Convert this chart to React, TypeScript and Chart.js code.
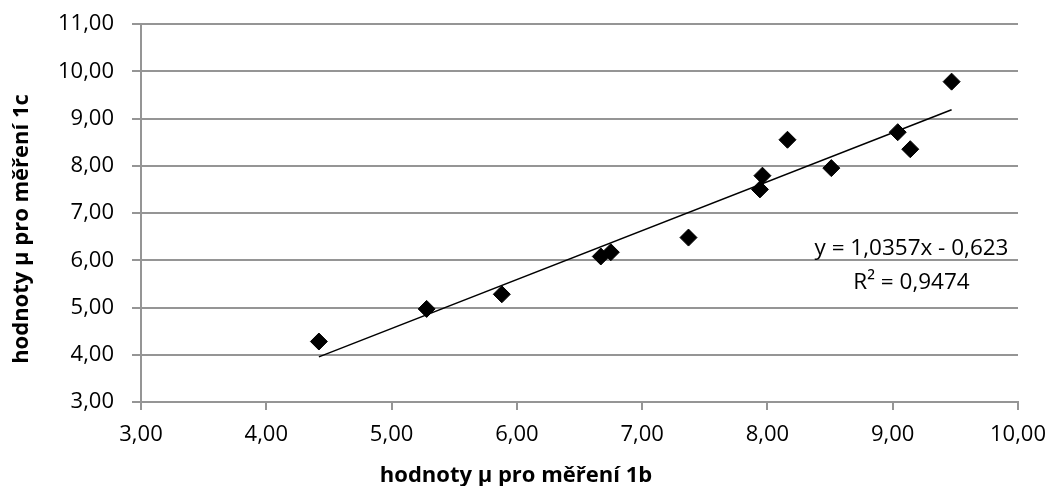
import { useEffect, useRef } from 'react';
import { Chart, registerables } from 'chart.js';

Chart.register(...registerables);

const xValues = [4.42, 5.28, 5.88, 6.67, 6.75, 7.37, 7.94, 7.96, 8.16, 8.51, 9.04, 9.14, 9.47];
const yValues = [4.28, 4.97, 5.28, 6.08, 6.17, 6.48, 7.5, 7.79, 8.55, 7.95, 8.71, 8.35, 9.78];
const trendSlope = 1.0357;
const trendIntercept = -0.623;
const trendEquation = 'y = 1,0357x - 0,623';
const trendR2 = 'R² = 0,9474';
const xAxisRange = [3, 10];
const yAxisRange = [3, 11];
const xTitle = 'hodnoty μ pro měření 1b';
const yTitle = 'hodnoty μ pro měření 1c';

const FONT = '"Open Sans"';
const GRID = '#959595';

const fmt = (v: number | string) => Number(v).toFixed(2).replace('.', ',');

export default function App() {
  const ref = useRef<HTMLCanvasElement | null>(null);
  useEffect(() => {
    if (!ref.current) return;
    const points = xValues.map((x, i) => ({ x, y: yValues[i] }));
    const xmin = Math.min(...xValues);
    const xmax = Math.max(...xValues);
    const trend = [
      { x: xmin, y: trendSlope * xmin + trendIntercept },
      { x: xmax, y: trendSlope * xmax + trendIntercept },
    ];
    const labels = {
      id: 'labels',
      afterDraw(chart: any) {
        const ctx = chart.ctx;
        ctx.save();
        ctx.fillStyle = '#000';
        ctx.textAlign = 'center';
        ctx.textBaseline = 'alphabetic';
        ctx.font = `bold 22px ${FONT}`;
        ctx.fillText(xTitle, 516, 482);
        ctx.save();
        ctx.translate(27.5, 229);
        ctx.rotate(-Math.PI / 2);
        ctx.fillText(yTitle, 0, 0);
        ctx.restore();
        ctx.font = `22.5px ${FONT}`;
        ctx.fillText(trendEquation, 911.5, 255);
        ctx.fillText(trendR2, 911.5, 289);
        ctx.restore();
      },
    };
    const chart = new Chart(ref.current, {
      type: 'scatter',
      data: {
        datasets: [
          {
            data: points,
            pointStyle: 'rectRot',
            pointRadius: 8.5,
            backgroundColor: '#000',
            borderColor: '#000',
            borderWidth: 1,
          },
          {
            type: 'line',
            data: trend,
            borderColor: '#000',
            borderWidth: 1.5,
            pointRadius: 0,
            fill: false,
          } as any,
        ],
      },
      options: {
        animation: false,
        responsive: false,
        layout: { padding: { left: 0, top: 24, right: 33, bottom: 0 } },
        plugins: { legend: { display: false }, tooltip: { enabled: false } },
        scales: {
          x: {
            type: 'linear',
            min: xAxisRange[0],
            max: xAxisRange[1],
            afterFit: (s: any) => { s.height = 84; s.paddingLeft = 0; s.paddingRight = 0; },
            grid: { drawOnChartArea: false, drawTicks: true, tickLength: 8, color: GRID, lineWidth: 2 },
            border: { color: GRID, width: 2 },
            ticks: {
              stepSize: 1,
              padding: 12,
              color: '#000',
              font: { family: FONT, size: 22 },
              callback: (v: any) => fmt(v),
            },
          },
          y: {
            type: 'linear',
            min: yAxisRange[0],
            max: yAxisRange[1],
            afterFit: (s: any) => { s.width = 141; s.paddingTop = 0; s.paddingBottom = 0; },
            grid: { drawTicks: true, tickLength: 9, color: GRID, lineWidth: 2 },
            border: { color: GRID, width: 2 },
            ticks: {
              stepSize: 1,
              padding: 18,
              color: '#000',
              font: { family: FONT, size: 22 },
              callback: (v: any) => fmt(v),
            },
          },
        },
      },
      plugins: [labels],
    });
    return () => chart.destroy();
  }, []);
  return (
    <div style={{ position: 'absolute', left: 0, top: 0, width: 1051, height: 486, background: '#fff' }}>
      <canvas ref={ref} width={1051} height={486} style={{ width: 1051, height: 486 }} />
    </div>
  );
}
